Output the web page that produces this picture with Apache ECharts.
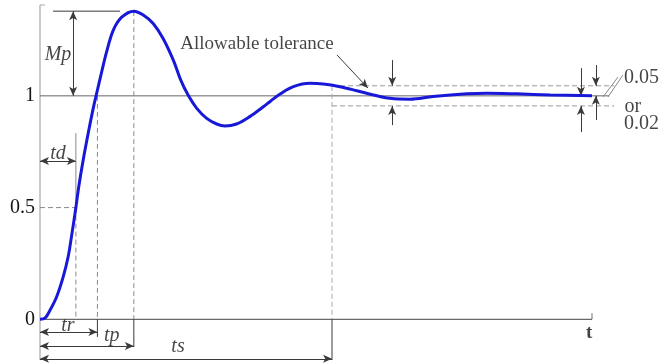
<!DOCTYPE html>
<html>
<head>
<meta charset="utf-8">
<script src="https://cdn.jsdelivr.net/npm/echarts@6/dist/echarts.min.js"></script>
<style>
  html, body { margin: 0; padding: 0; background: #fff; }
  #chart { width: 671px; height: 364px; }
</style>
</head>
<body>
<div id="chart"></div>
<script>
// Step response c(t): time (arbitrary units) and output samples
const responseT = [0, 0.9, 1.8, 3.0, 4.2, 5.1, 5.7, 6.5, 7.0, 7.8, 8.75, 9.65, 10.3, 11.2, 12.1, 13.3, 14.8, 17.0,
  18.7, 20.5, 22.3, 24.15, 25.5, 26.9, 28.4, 30.2, 32.0, 33.5, 35.6, 38.0, 40.45, 41.7, 43.5, 45.9, 48.9,
  51.3, 54.35, 57.4, 60.4, 63.4, 67.0, 71.2, 77.3, 80.9, 86.4, 92.4, 100];
const responseY = [0, 0.005, 0.04, 0.10, 0.19, 0.28, 0.37, 0.5, 0.59, 0.71, 0.835, 0.945, 1.015, 1.11, 1.2, 1.295, 1.352, 1.379,
  1.362, 1.324, 1.257, 1.16, 1.07, 1.0, 0.944, 0.899, 0.874, 0.865, 0.874, 0.907, 0.951, 0.975, 1.008, 1.041, 1.056,
  1.053, 1.041, 1.023, 1.004, 0.989, 0.985, 0.997, 1.009, 1.012, 1.009, 1.004, 1.0];

const yTickValues = [0, 0.5, 1];

// Characteristic times and levels
const tdTime = 6.5;      // delay time (50 %)
const trTime = 10.4;     // rise time
const tpTime = 17.0;     // peak time
const tsTime = 52.9;     // settling time
const finalValue = 1;
const peakValue = 1.379;
const tolerance = 0.045;
const tEnd = 100;

const serif = 'Liberation Serif, Times New Roman, serif';
const gray = '#8a8a8a';
const dark = '#3a3a3a';

const responseData = responseT.map((t, i) => [t, responseY[i]]);

function seg(a, b, color, width, dashed) {
  return {
    type: 'line', data: [a, b], showSymbol: false, silent: true, z: 2,
    lineStyle: { color: color, width: width, type: dashed ? [5, 3] : 'solid' }
  };
}

function arrowSeries(lines, bothEnds) {
  return {
    type: 'line', data: [], silent: true, z: 3,
    markLine: {
      silent: true, animation: false,
      symbol: bothEnds ? ['arrow', 'arrow'] : ['none', 'arrow'],
      symbolSize: [6, 9],
      label: { show: false },
      lineStyle: { color: dark, width: 1, type: 'solid' },
      emphasis: { disabled: true },
      data: lines.map(l => [{ coord: l[0] }, { coord: l[1] }])
    }
  };
}

function txt(t, y, text, opts) {
  return {
    value: [t, y],
    label: Object.assign({ formatter: text }, opts || {})
  };
}

const yTop = 1.4065, yBottom = -0.182;
const hi = finalValue + tolerance, lo = finalValue - tolerance;

const series = [
  // axes
  seg([0, yBottom], [0, yTop], '#a8a8a8', 1.2),
  seg([0, yTop], [0.9, yTop], '#a8a8a8', 1.2),
  seg([0, 0], [tEnd, 0], '#6a6a6a', 1.2),
  seg([tEnd, 0], [tEnd, 0.027], '#6a6a6a', 1),
  // final value line
  seg([0, finalValue], [103.1, finalValue], '#666', 1),
  // 50 % level and delay time
  seg([0, 0.5], [tdTime, 0.5], gray, 1, true),
  seg([tdTime, 0.833], [tdTime, 0.5], gray, 1),
  seg([tdTime, 0.5], [tdTime, 0], gray, 1, true),
  // rise time
  seg([trTime, finalValue], [trTime, 0], gray, 1, true),
  seg([trTime, 0], [trTime, -0.079], dark, 1),
  // peak time
  seg([tpTime, peakValue], [tpTime, 0], gray, 1, true),
  seg([tpTime, 0], [tpTime, -0.124], dark, 1),
  // settling time
  seg([tsTime, hi], [tsTime, 0], '#aaa', 1, true),
  seg([tsTime, 0], [tsTime, yBottom], dark, 1),
  // overshoot reference
  seg([2.36, peakValue], [14.5, peakValue], dark, 1),
  // tolerance band
  seg([tsTime, hi], [104.0, hi], '#999', 1, true),
  seg([tsTime, lo], [104.0, lo], '#999', 1, true),
  // leader slashes to the tolerance note
  seg([102.0, 0.995], [104.7, 1.084], '#888', 1),
  seg([102.9, 0.995], [105.6, 1.093], '#888', 1),
  // the response itself
  {
    type: 'line', data: responseData, showSymbol: false, smooth: 0.35, silent: true, z: 5,
    lineStyle: { color: '#1818d8', width: 3 }
  },
  arrowSeries([
    [[0, 0.708], [tdTime, 0.708]],
    [[0, -0.057], [trTime, -0.057]],
    [[0, -0.119], [tpTime, -0.119]],
    [[0, -0.177], [tsTime, -0.177]],
    [[6.0, peakValue], [6.0, finalValue]]
  ], true),
  arrowSeries([
    [[63.8, 1.16], [63.8, hi]],
    [[63.8, 0.869], [63.8, lo]],
    [[98.0, 1.124], [98.0, finalValue]],
    [[98.0, 0.838], [98.0, lo]],
    [[100.7, 1.138], [100.7, hi]],
    [[100.7, 0.892], [100.7, finalValue]],
    [[53.8, 1.183], [59.4, 1.035]]
  ], false),
  {
    type: 'scatter', symbolSize: 1, silent: true, z: 6,
    itemStyle: { color: 'rgba(0,0,0,0)' },
    label: {
      show: true, position: 'inside', color: '#151515',
      fontFamily: serif, fontSize: 20
    },
    data: [
      txt(3.26, 1.183, 'Mp', { fontStyle: 'italic' }),
      txt(3.26, 0.742, 'td', { fontStyle: 'italic' }),
      txt(5.07, -0.03, 'tr', { fontStyle: 'italic' }),
      txt(13.0, -0.074, 'tp', { fontStyle: 'italic' }),
      txt(25.0, -0.124, 'ts', { fontStyle: 'italic' }),
      txt(99.5, -0.061, 't', { fontWeight: 'bold', fontSize: 19 }),
      txt(25.4, 1.232, 'Allowable tolerance', { align: 'left', fontSize: 19 }),
      txt(105.8, 1.08, '0.05', { align: 'left' }),
      txt(105.9, 0.953, 'or', { align: 'left' }),
      txt(105.8, 0.876, '0.02', { align: 'left' })
    ]
  }
];

const chart = echarts.init(document.getElementById('chart'), null, { renderer: 'canvas' });
chart.setOption({
  animation: false,
  backgroundColor: '#ffffff',
  grid: { left: 40, right: 12.76, top: 2, bottom: 0, containLabel: false, outerBoundsMode: 'none' },
  xAxis: {
    type: 'value', min: 0, max: 112, show: false
  },
  yAxis: {
    type: 'value', min: -0.2, max: 1.42,
    axisLine: { show: false }, axisTick: { show: false }, splitLine: { show: false },
    axisLabel: {
      customValues: yTickValues, margin: 5, color: '#151515',
      fontFamily: serif, fontSize: 20
    }
  },
  series: series
});
</script>
</body>
</html>
